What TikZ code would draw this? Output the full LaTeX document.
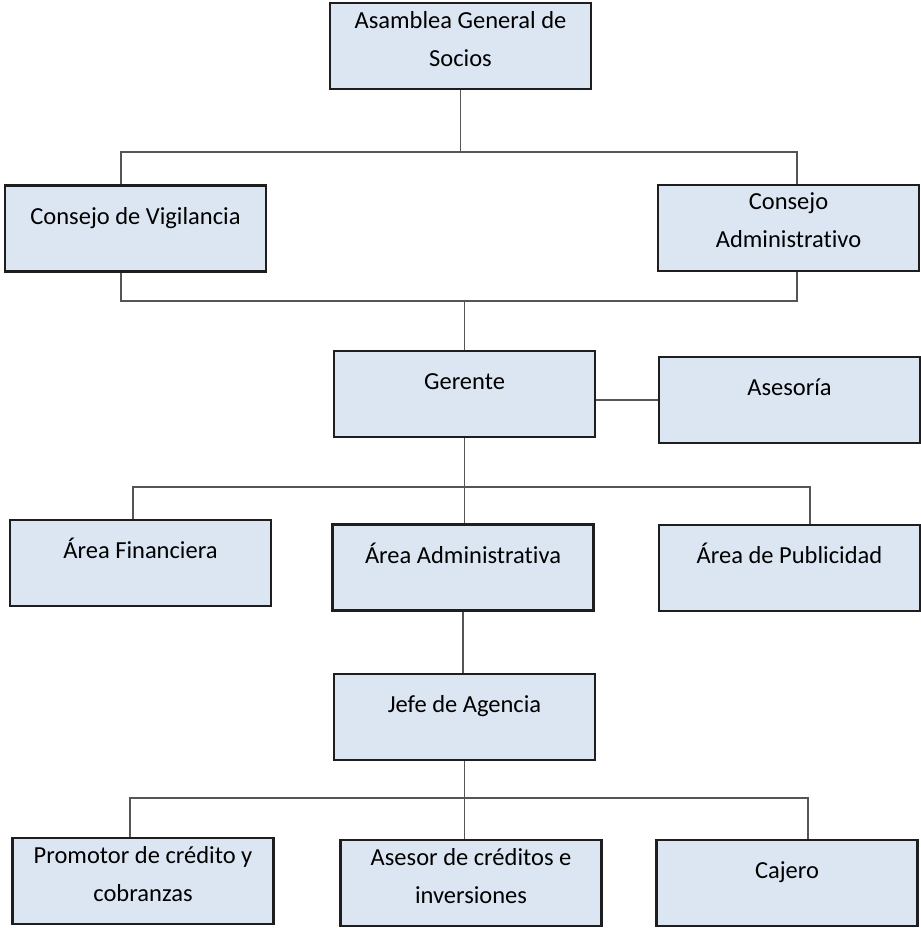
\documentclass[tikz,border=0pt]{standalone}
\usepackage{fontspec}
\setmainfont{Carlito}[Ligatures=CommonOff]
\usepackage{tikz}
\definecolor{boxblue}{RGB}{220,230,242}
\definecolor{linegray}{RGB}{85,85,85}
\definecolor{edgegray}{RGB}{30,30,30}
\newcommand{\orgfont}{\fontsize{24.5}{38}\selectfont}

\begin{document}
\begin{tikzpicture}[x=1pt,y={(0pt,-1pt)},
  unit/.style={draw=edgegray, line width=2.2pt, fill=boxblue,
    minimum width=261pt, minimum height=86pt, inner sep=0pt},
  tag/.style={anchor=north, align=center, inner sep=0pt, font=\orgfont,
    execute at begin node=\strut, yshift=-13pt},
  twoline/.style={yshift=4pt},
  link/.style={draw=linegray, line width=1.6pt}]
\useasboundingbox (0,0) rectangle (920,928);

% boxes
\node[unit] (asamblea) at (460.5,46) {};
\node[unit] (vigilancia) at (135.5,228.5) {};
\node[unit] (consejo) at (788.5,228) {};
\node[unit] (gerente) at (464.5,394) {};
\node[unit] (asesoria) at (789.5,400) {};
\node[unit] (financiera) at (140.5,563) {};
\node[unit] (areaadm) at (463,567.5) {};
\node[unit] (publicidad) at (789.5,568) {};
\node[unit] (jefe) at (464.5,717) {};
\node[unit] (promotor) at (143,881) {};
\node[unit] (asesor) at (471,883) {};
\node[unit] (cajero) at (787,883) {};

% labels
\node[tag,twoline] (tasamblea) at (asamblea.north) {Asamblea General de\\Socios};
\node[tag] (tvigilancia) at (vigilancia.north) {Consejo de Vigilancia};
\node[tag,twoline] (tconsejo) at (consejo.north) {Consejo\\Administrativo};
\node[tag] (tgerente) at (gerente.north) {Gerente};
\node[tag] (tasesoria) at (asesoria.north) {Asesoría};
\node[tag] (tfinanciera) at (financiera.north) {Área Financiera};
\node[tag] (tareaadm) at (areaadm.north) {Área Administrativa};
\node[tag] (tpublicidad) at (publicidad.north) {Área de Publicidad};
\node[tag] (tjefe) at (jefe.north) {Jefe de Agencia};
\node[tag,twoline] (tpromotor) at (promotor.north) {Promotor de crédito y\\cobranzas};
\node[tag,twoline] (tasesor) at (asesor.north) {Asesor de créditos e\\inversiones};
\node[tag] (tcajero) at (cajero.north) {Cajero};

% bus corners
\coordinate (b1l) at (121,152);
\coordinate (b1r) at (797,152);
\coordinate (b2l) at (121,301);
\coordinate (b2r) at (797,301);
\coordinate (b3l) at (133,487);
\coordinate (b3r) at (810,487);
\coordinate (b4l) at (130,798);
\coordinate (b4r) at (808,798);

% connectors
\draw[link] (asamblea.south) |- (b1l) -- (b1l |- vigilancia.north);
\draw[link] (asamblea.south) |- (b1r) -- (b1r |- consejo.north);
\draw[link] (b2l |- vigilancia.south) -- (b2l) -- (b2r) -- (b2r |- consejo.south);
\draw[link] (gerente.north) -- (gerente.north |- b2l);
\draw[link] (asesoria.west) -- (asesoria.west -| gerente.east);
\draw[link] (gerente.south) -- (gerente.south |- areaadm.north);
\draw[link] (b3l |- financiera.north) -- (b3l) -- (b3r) -- (b3r |- publicidad.north);
\draw[link] (areaadm.south) -- (areaadm.south |- jefe.north);
\draw[link] (jefe.south) -- (jefe.south |- asesor.north);
\draw[link] (b4l |- promotor.north) -- (b4l) -- (b4r) -- (b4r |- cajero.north);
\end{tikzpicture}
\end{document}
